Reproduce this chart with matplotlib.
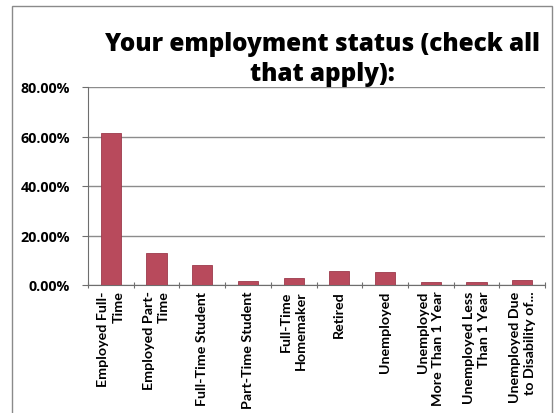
import numpy as np
import matplotlib
matplotlib.use("Agg")
import matplotlib.pyplot as plt
from matplotlib.patches import Rectangle
from matplotlib.ticker import FuncFormatter, FixedLocator

# Survey answers: share of respondents per employment status
categories = [
    "Employed Full-\nTime",
    "Employed Part-\nTime",
    "Full-Time Student",
    "Part-Time Student",
    "Full-Time\nHomemaker",
    "Retired",
    "Unemployed",
    "Unemployed\nMore Than 1 Year",
    "Unemployed Less\nThan 1 Year",
    "Unemployed Due\nto Disability of...",
]
shares = [61.5, 12.9, 8.2, 1.5, 2.8, 5.8, 5.1, 1.3, 1.2, 2.1]
y_ticks = [0, 20, 40, 60, 80]

title = "Your employment status (check all\nthat apply):"

bar_color = "#b84a5c"
grid_color = "#8c8c8c"

fig = plt.figure(figsize=(5.56, 4.14), dpi=100)
fig.patch.set_facecolor("white")

# outer chart frame
fig.patches.append(Rectangle((12 / 556, -4 / 414), 540 / 556, 411 / 414,
                             transform=fig.transFigure, fill=False,
                             edgecolor="#8a8a8a", linewidth=1.0))

ax = fig.add_axes([88 / 556, 1 - 286 / 414, 457 / 556, 198 / 414])

x = np.arange(len(categories))
ax.bar(x, shares, width=0.44, color=bar_color, edgecolor="#9c3a4c",
       linewidth=0.6, zorder=3)

ax.set_xlim(-0.5, len(categories) - 0.5)
ax.set_ylim(0, 80)

ax.yaxis.set_major_locator(FixedLocator(y_ticks))
ax.yaxis.set_major_formatter(FuncFormatter(lambda v, p: f"{v:.2f}%"))
ax.grid(axis="y", color=grid_color, linewidth=1.0, zorder=0)

for side in ["top", "right"]:
    ax.spines[side].set_visible(False)
ax.spines["left"].set_color("#6e6e6e")
ax.spines["bottom"].set_color("#6e6e6e")

ax.tick_params(axis="y", length=4, width=0.8, color="#6e6e6e", pad=9)
for lbl in ax.get_yticklabels():
    lbl.set_fontfamily("Open Sans")
    lbl.set_fontweight("bold")
    lbl.set_fontsize(10.3)

# category ticks sit between the bars
ax.set_xticks(x)
ax.set_xticks(np.arange(-0.5, len(categories)), minor=True)
ax.tick_params(axis="x", which="major", length=0, pad=4)
ax.tick_params(axis="x", which="minor", length=5, width=0.8,
               direction="inout", color="#6e6e6e")
ax.set_xticklabels(categories, rotation=90, ha="center", va="top",
                   multialignment="right", family="Lato",
                   fontweight="bold", fontsize=10.3, linespacing=1.3)

fig.text(322 / 556, 1 - 32 / 414, title, ha="center", va="top",
         family="Open Sans", fontweight="heavy", fontsize=17.5,
         linespacing=1.25)

fig.savefig("out.png", dpi=100)
